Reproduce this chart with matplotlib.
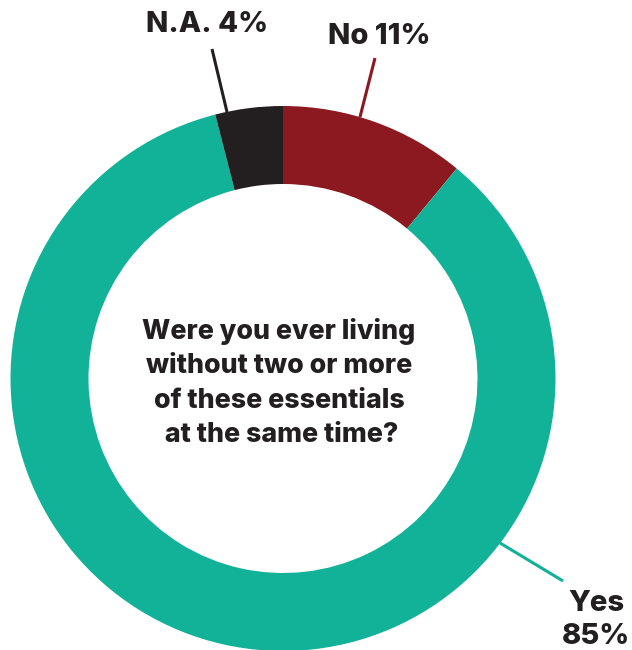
import matplotlib
matplotlib.use("Agg")
import matplotlib.pyplot as plt

categories = ["No", "Yes", "N.A."]
values = [11, 85, 4]
colors = ["#8C1820", "#12B298", "#231F20"]
label_texts = ["No 11%", "Yes\n85%", "N.A. 4%"]
center_text = "Were you ever living\nwithout two or more\nof these essentials\n at the same time?"

W, H = 632, 650
fig = plt.figure(figsize=(W / 100, H / 100), dpi=100)
ax = fig.add_axes([0, 0, 1, 1])
ax.set_xlim(0, W)
ax.set_ylim(0, H)
ax.set_aspect("equal")
ax.axis("off")

cx, cy = 283, H - 378.5
R = 272.5
ax.pie(values, colors=colors, startangle=90, counterclock=False,
       center=(cx, cy), radius=R, wedgeprops=dict(width=78, linewidth=0))
ax.set_xlim(0, W)
ax.set_ylim(0, H)

font = dict(family=["Inter", "DejaVu Sans"], fontweight="heavy", color="#231F20")

ax.text(279, H - 383, center_text, ha="center", va="center",
        fontsize=19.3, linespacing=1.42, **font)

# leader lines (pixel coords from top)
ax.plot([375, 360], [H - 58, H - 117], color=colors[0], lw=2.2, solid_capstyle="butt")
ax.plot([212, 227], [H - 49, H - 112], color=colors[2], lw=2.2, solid_capstyle="butt")
ax.plot([500, 563], [H - 543, H - 581], color=colors[1], lw=2.2, solid_capstyle="butt")

ax.text(379, H - 37, label_texts[0], ha="center", va="center", fontsize=21, **font)
ax.text(207, H - 24, label_texts[2], ha="center", va="center", fontsize=21, **font)
ax.text(596, H - 620, label_texts[1], ha="center", va="center", fontsize=21,
        linespacing=1.3, **font)

fig.savefig("out.png", dpi=100)
